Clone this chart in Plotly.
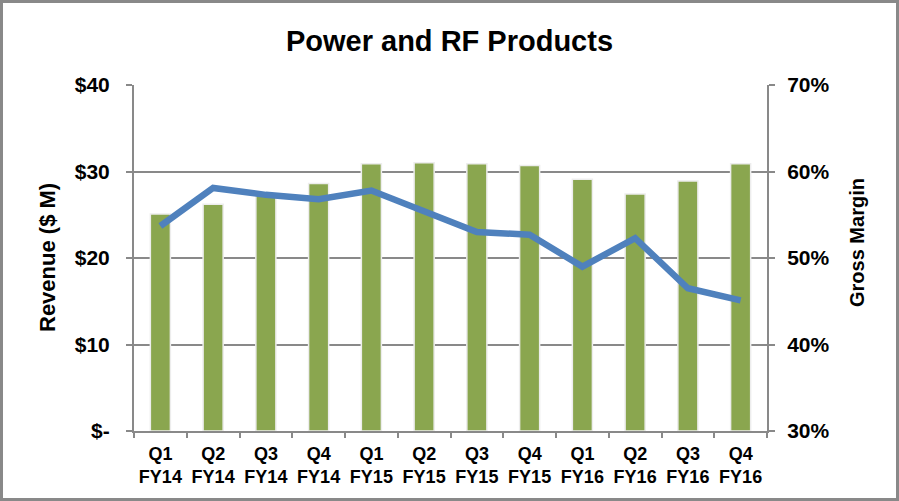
import plotly.graph_objects as go

categories = ["Q1<br>FY14", "Q2<br>FY14", "Q3<br>FY14", "Q4<br>FY14",
              "Q1<br>FY15", "Q2<br>FY15", "Q3<br>FY15", "Q4<br>FY15",
              "Q1<br>FY16", "Q2<br>FY16", "Q3<br>FY16", "Q4<br>FY16"]
revenue = [25.1, 26.2, 27.4, 28.6, 30.9, 31.0, 30.9, 30.7, 29.1, 27.4, 28.9, 30.9]
gross_margin = [53.7, 58.1, 57.3, 56.8, 57.8, 55.4, 53.0, 52.7, 49.0, 52.3, 46.5, 45.1]

rev_ticks = [0, 10, 20, 30, 40]
rev_ticktext = ["$-", "$10", "$20", "$30", "$40"]
gm_ticks = [30, 40, 50, 60, 70]
gm_ticktext = ["30%", "40%", "50%", "60%", "70%"]

W, H = 899, 501
ML, MR, MT, MB = 134, 132, 85, 70
PW, PH = W - ML - MR, H - MT - MB

font = dict(family="Liberation Sans, Arial, sans-serif", color="black")
grey = "#898989"

fig = go.Figure()
fig.add_trace(go.Bar(
    x=categories, y=revenue, name="Revenue",
    marker=dict(color="#8AA64F", line=dict(color="#EDEDED", width=1.5)),
    width=0.38,
    yaxis="y",
))
fig.add_trace(go.Scatter(
    x=categories, y=gross_margin, name="Gross Margin",
    mode="lines", line=dict(color="#4F81BD", width=6.5),
    yaxis="y2",
))

fig.update_layout(
    width=W, height=H,
    margin=dict(l=ML, r=MR, t=MT, b=MB, autoexpand=False),
    paper_bgcolor="white", plot_bgcolor="white",
    showlegend=False,
    title=dict(text="<b>Power and RF Products</b>", x=0.5, xanchor="center",
               y=1 - 41 / H, yanchor="middle",
               font=dict(size=29, **font)),
    font=font,
    xaxis=dict(
        type="category", tickson="boundaries", ticks="outside", ticklen=5,
        tickcolor=grey, tickwidth=2, showline=True, linecolor=grey, linewidth=2,
        tickfont=dict(size=18, **font), showgrid=False, automargin=False,
        tickangle=0,
        tickprefix="<b>", ticksuffix="</b>", ticklabelstandoff=5,
    ),
    yaxis=dict(
        range=[0, 40], tickvals=rev_ticks, ticktext=["<b>%s</b>" % t for t in rev_ticktext],
        ticks="outside", ticklen=6, tickcolor=grey, tickwidth=2,
        showline=True, linecolor=grey, linewidth=2, automargin=False,
        showgrid=True, gridcolor=grey, gridwidth=2, zeroline=False,
        tickfont=dict(size=21, **font), ticklabelstandoff=12,
    ),
    yaxis2=dict(
        range=[30, 70], tickvals=gm_ticks, ticktext=["<b>%s</b>" % t for t in gm_ticktext],
        overlaying="y", side="right", automargin=False,
        ticks="outside", ticklen=6, tickcolor=grey, tickwidth=2,
        showline=True, linecolor=grey, linewidth=2, showgrid=False, zeroline=False,
        tickfont=dict(size=21, **font), ticklabelstandoff=8,
    ),
)

# axis titles
fig.add_annotation(text="<b>Revenue ($ M)</b>", textangle=-90, showarrow=False,
                   xref="paper", yref="paper", x=(47 - ML) / PW, y=(H - MB - 258) / PH,
                   xanchor="center", yanchor="middle", font=dict(size=22, **font))
fig.add_annotation(text="<b>Gross Margin</b>", textangle=-90, showarrow=False,
                   xref="paper", yref="paper", x=(857 - ML) / PW, y=(H - MB - 243) / PH,
                   xanchor="center", yanchor="middle", font=dict(size=20, **font))

# outer frame around the whole chart
fig.add_shape(type="rect", xref="paper", yref="paper",
              x0=-(ML - 1.5) / PW, x1=1 + (MR - 1.5) / PW,
              y0=-(MB - 1.5) / PH, y1=1 + (MT - 1.5) / PH,
              line=dict(color=grey, width=3), layer="above")

fig.write_html("out.html", config={"displayModeBar": False},
               post_script="document.body.style.margin='0';document.body.style.padding='0';")
